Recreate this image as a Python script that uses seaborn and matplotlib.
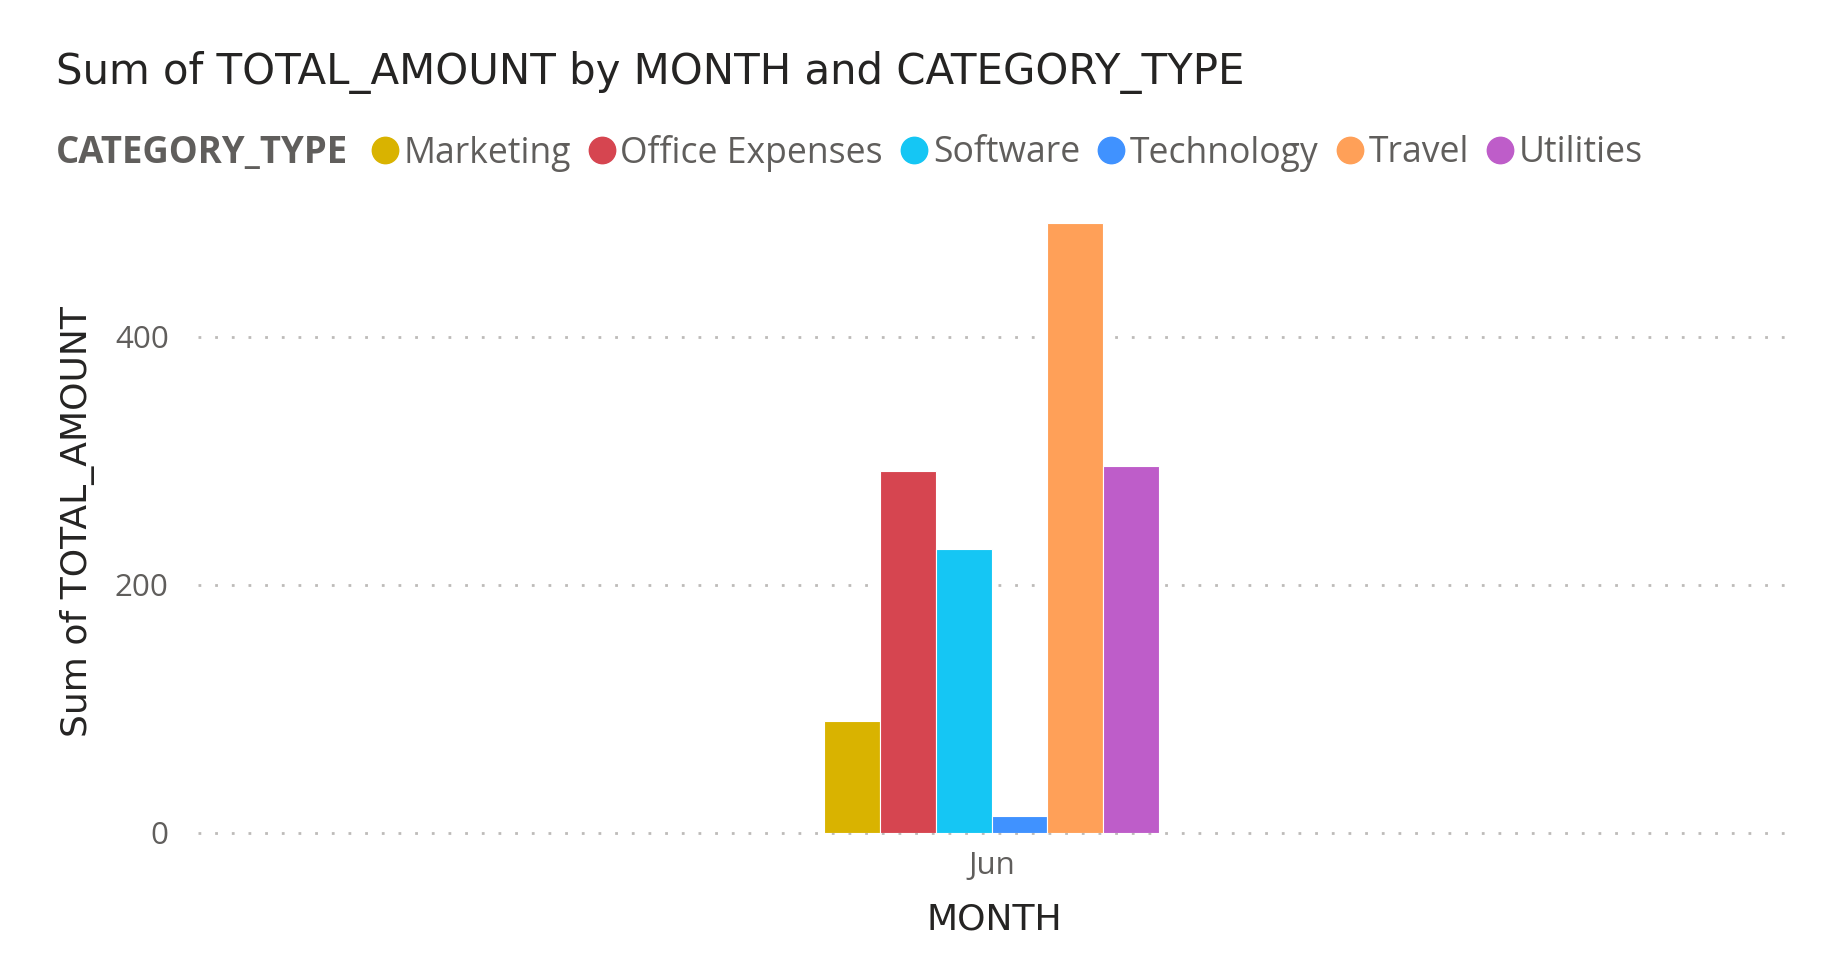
import matplotlib
matplotlib.use("Agg")
import matplotlib.pyplot as plt
from matplotlib.lines import Line2D
import seaborn as sns
import pandas as pd

# ---- data ----
months = ["Jun"]
categories = ["Marketing", "Office Expenses", "Software", "Technology", "Travel", "Utilities"]
total_amount = [90, 292, 229, 14, 492, 296]
colors = ["#D9B300", "#D64550", "#15C6F4", "#4092FF", "#FFA058", "#BE5DC9"]
y_ticks = [0, 200, 400]

df = pd.DataFrame({
    "MONTH": months * len(categories),
    "CATEGORY_TYPE": categories,
    "TOTAL_AMOUNT": total_amount,
})

sns.set_theme(style="white")
plt.rcParams["font.family"] = ["DejaVu Sans"]

W, H = 1829, 975
fig = plt.figure(figsize=(W / 100, H / 100), dpi=100)
fig.patch.set_facecolor("white")
ax = fig.add_axes([198 / W, 1 - 833 / H, (1785 - 198) / W, (833 - 213) / H])

sns.barplot(data=df, x="MONTH", y="TOTAL_AMOUNT", hue="CATEGORY_TYPE",
            hue_order=categories, palette=colors, saturation=1, width=0.211,
            edgecolor="white", linewidth=0.8, legend=False, ax=ax)

ax.set_xlim(-0.5, 0.5)
ax.set_ylim(0, 500)
ax.set_yticks(y_ticks)
ax.set_yticklabels([str(v) for v in y_ticks])
for s in ax.spines.values():
    s.set_visible(False)

ax.yaxis.grid(True, linestyle=(0, (1.0, 5.0)), linewidth=2.0, color="#BDBBB9")
ax.xaxis.grid(False)
ax.set_axisbelow(True)
for gl in ax.get_ygridlines():
    gl.set_clip_on(False)

tick_font = ["Open Sans", "DejaVu Sans"]
ax.tick_params(axis="y", length=0, pad=21, labelsize=22.5, labelcolor="#605E5C")
ax.tick_params(axis="x", length=0, pad=13, labelsize=22.5, labelcolor="#605E5C")
for lab in ax.get_yticklabels() + ax.get_xticklabels():
    lab.set_family(tick_font)

ax.set_ylabel("Sum of TOTAL_AMOUNT", fontsize=26, color="#252423")
ax.yaxis.label.set_va("center")
ax.yaxis.set_label_coords((78 - 198) / (1785 - 198), (833 - 522) / (833 - 213))
ax.set_xlabel("MONTH", fontsize=26, color="#252423")
ax.xaxis.label.set_va("baseline")
ax.xaxis.set_label_coords((994 - 198) / (1785 - 198), (833 - 930) / (833 - 213))

fig.text(56 / W, 1 - 84 / H, "Sum of TOTAL_AMOUNT by MONTH and CATEGORY_TYPE",
         fontsize=30.2, color="#252423", ha="left", va="baseline")

fig.text(56 / W, 1 - 153 / H, "CATEGORY_TYPE", fontsize=26.3, fontweight="bold",
         color="#605E5C", ha="left", va="center", family=tick_font)

handles = [Line2D([0], [0], marker="o", linestyle="", markersize=19,
                  markerfacecolor=c, markeredgecolor=c) for c in colors]
leg = fig.legend(handles, categories, loc="center left",
                 bbox_to_anchor=(373 / W, 1 - 153 / H), ncol=len(categories),
                 frameon=False, handlelength=0.65, handletextpad=0.2,
                 columnspacing=0.55, borderaxespad=0, borderpad=0,
                 prop={"family": tick_font, "size": 25.6})
for t in leg.get_texts():
    t.set_color("#605E5C")

fig.savefig("out.png", dpi=100, facecolor="white")
